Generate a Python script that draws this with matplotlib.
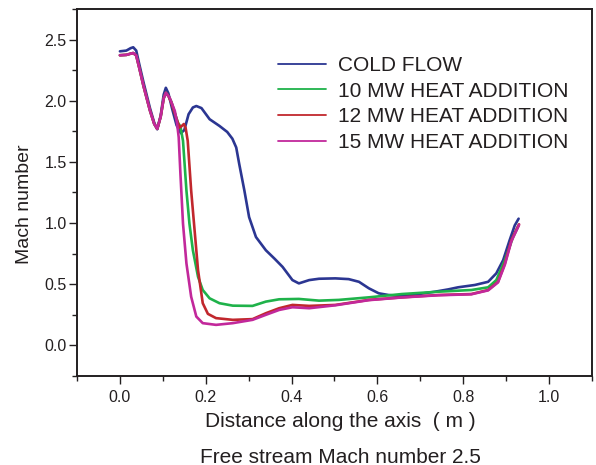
import matplotlib
matplotlib.use("Agg")
import matplotlib.pyplot as plt
from matplotlib.ticker import MultipleLocator

plt.rcParams['font.family'] = ['Liberation Sans', 'DejaVu Sans']

# common upstream part of the heated runs (they sit on top of each other here)
x_inlet = [0.0, 0.015, 0.025, 0.031, 0.038, 0.045, 0.055, 0.070, 0.080, 0.087,
           0.095, 0.102, 0.107]
m_inlet = [2.372, 2.375, 2.385, 2.39, 2.37, 2.27, 2.12, 1.92, 1.81, 1.77,
           1.87, 2.02, 2.065]

x_cold = [0.0, 0.015, 0.025, 0.031, 0.038, 0.045, 0.055, 0.070, 0.080, 0.087,
          0.095, 0.102, 0.107, 0.113, 0.122, 0.132, 0.142, 0.150, 0.160, 0.170,
          0.178, 0.190, 0.209, 0.232, 0.250, 0.262, 0.271, 0.278, 0.290, 0.301,
          0.317, 0.340, 0.360, 0.379, 0.402, 0.417, 0.441, 0.464, 0.502, 0.533,
          0.557, 0.580, 0.603, 0.626, 0.657, 0.696, 0.734, 0.765, 0.788, 0.827,
          0.858, 0.877, 0.893, 0.908, 0.920, 0.929]
m_cold = [2.404, 2.41, 2.43, 2.437, 2.41, 2.30, 2.15, 1.94, 1.82, 1.767,
          1.88, 2.05, 2.106, 2.06, 1.93, 1.80, 1.735, 1.76, 1.89, 1.945,
          1.957, 1.94, 1.849, 1.794, 1.745, 1.69, 1.618, 1.483, 1.266, 1.049,
          0.886, 0.778, 0.71, 0.642, 0.534, 0.507, 0.534, 0.545, 0.548, 0.542,
          0.520, 0.467, 0.426, 0.412, 0.404, 0.420, 0.439, 0.458, 0.475, 0.494,
          0.520, 0.589, 0.697, 0.859, 0.981, 1.036]

x_10mw = x_inlet + [0.113, 0.120, 0.128, 0.135, 0.141, 0.147, 0.155, 0.162,
                    0.170, 0.182, 0.193, 0.209, 0.232, 0.263, 0.309, 0.340,
                    0.371, 0.417, 0.464, 0.510, 0.580, 0.657, 0.742, 0.819,
                    0.858, 0.877, 0.897, 0.916, 0.929]
m_10mw = m_inlet + [2.04, 1.99, 1.90, 1.821, 1.79, 1.672, 1.266, 0.995,
                    0.778, 0.561, 0.453, 0.385, 0.345, 0.325, 0.323, 0.358,
                    0.377, 0.380, 0.366, 0.372, 0.393, 0.420, 0.439, 0.453,
                    0.475, 0.534, 0.697, 0.886, 0.981]

x_12mw = x_inlet + [0.113, 0.120, 0.131, 0.139, 0.143, 0.149, 0.153, 0.158,
                    0.166, 0.174, 0.182, 0.193, 0.205, 0.224, 0.263, 0.309,
                    0.340, 0.371, 0.402, 0.441, 0.502, 0.580, 0.657, 0.742,
                    0.819, 0.858, 0.881, 0.897, 0.912, 0.930]
m_12mw = m_inlet + [2.04, 1.984, 1.862, 1.78, 1.79, 1.81, 1.78, 1.672,
                    1.266, 0.941, 0.616, 0.345, 0.258, 0.223, 0.209, 0.215,
                    0.263, 0.304, 0.331, 0.323, 0.331, 0.372, 0.393, 0.412,
                    0.420, 0.453, 0.520, 0.670, 0.859, 0.99]

x_15mw = x_inlet + [0.116, 0.128, 0.133, 0.137, 0.141, 0.147, 0.155, 0.166,
                    0.178, 0.193, 0.224, 0.263, 0.309, 0.340, 0.371, 0.402,
                    0.441, 0.502, 0.580, 0.657, 0.742, 0.819, 0.858, 0.881,
                    0.897, 0.912, 0.930]
m_15mw = m_inlet + [2.024, 1.916, 1.82, 1.70, 1.402, 0.995, 0.670, 0.398,
                    0.236, 0.182, 0.168, 0.182, 0.209, 0.250, 0.290, 0.312,
                    0.304, 0.328, 0.370, 0.392, 0.410, 0.418, 0.450, 0.515,
                    0.66, 0.85, 0.985]

series = [
    ('COLD FLOW', x_cold, m_cold, '#2b3692'),
    ('10 MW HEAT ADDITION', x_10mw, m_10mw, '#1fb24a'),
    ('12 MW HEAT ADDITION', x_12mw, m_12mw, '#c1272d'),
    ('15 MW HEAT ADDITION', x_15mw, m_15mw, '#c2289b'),
]

TEXT = '#231f20'

fig = plt.figure(figsize=(5.96, 4.65), dpi=100)
ax = fig.add_axes([77 / 596, 1 - 376 / 465, 515 / 596, 367 / 465])

for name, xs, ms, col in series:
    ax.plot(xs, ms, color=col, lw=1.9, label=name, solid_capstyle='round',
            solid_joinstyle='round')

ax.set_xlim(-0.1, 1.1)
ax.set_ylim(-0.25, 2.75)
ax.xaxis.set_major_locator(MultipleLocator(0.2))
ax.xaxis.set_minor_locator(MultipleLocator(0.1))
ax.yaxis.set_major_locator(MultipleLocator(0.5))
ax.yaxis.set_minor_locator(MultipleLocator(0.25))
ax.xaxis.set_major_formatter(plt.FormatStrFormatter('%.1f'))
ax.yaxis.set_major_formatter(plt.FormatStrFormatter('%.1f'))

ax.tick_params(which='major', direction='out', length=6, width=1.0,
               labelsize=11.5, labelcolor=TEXT, color=TEXT)
ax.tick_params(which='minor', direction='out', length=3.5, width=1.0,
               color=TEXT)
ax.tick_params(axis='y', which='major', pad=1.5)
ax.tick_params(axis='x', which='major', pad=4)
for sp in ax.spines.values():
    sp.set_linewidth(1.4)
    sp.set_color(TEXT)

leg = ax.legend(loc='upper left', bbox_to_anchor=(278 / 596, 1 - 56 / 465),
                bbox_transform=fig.transFigure, frameon=False, fontsize=15,
                handlelength=2.3, handletextpad=0.6, labelspacing=0.32,
                borderpad=0, borderaxespad=0)
for line in leg.get_lines():
    line.set_linewidth(1.3)
for t in leg.get_texts():
    t.set_color(TEXT)

fig.text(25 / 596, 1 - 204 / 465, 'Mach number', rotation=90, fontsize=14,
         color=TEXT, ha='center', va='center')
fig.text(340 / 596, 1 - 421 / 465, 'Distance along the axis  ( m )',
         fontsize=15, color=TEXT, ha='center', va='center')
fig.text(340 / 596, 1 - 457 / 465, 'Free stream Mach number 2.5',
         fontsize=15, color=TEXT, ha='center', va='center')

fig.savefig('out.png', dpi=100)
